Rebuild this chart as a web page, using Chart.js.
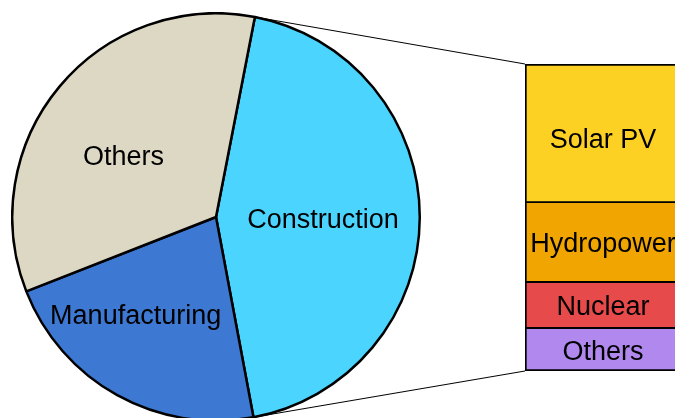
<!DOCTYPE html>
<html>
<head>
<meta charset="utf-8">
<script src="https://cdn.jsdelivr.net/npm/chart.js@4"></script>
<style>
  html, body { margin: 0; padding: 0; background: #fff; overflow: hidden; }
  #wrap { position: relative; width: 675px; height: 418px; overflow: hidden; }
  #wrap > div, #lines { position: absolute; }
  #pieBox { left: 11px; top: 12px; width: 410px; height: 410px; }
  #barBox { left: 525px; top: 64px; width: 156px; height: 307px; }
  #lines { left: 0; top: 0; }
</style>
</head>
<body>
<div id="wrap">
  <canvas id="lines" width="675" height="418"></canvas>
  <div id="pieBox"><canvas id="pieChart"></canvas></div>
  <div id="barBox"><canvas id="barChart"></canvas></div>
</div>
<script>
// ==================== DATA ====================
var sectorLabels = ['Construction', 'Manufacturing', 'Others'];
var sectorValues = [44, 22, 34];
var sectorColors = ['#4AD4FE', '#3D78D2', '#DCD8C3'];

// desglose de Construction (de abajo hacia arriba)
var sourceLabels = ['Others', 'Nuclear', 'Hydropower', 'Solar PV'];
var sourceValues = [14, 15, 26, 45];
var sourceColors = ['#B088EE', '#E64A4A', '#F0A500', '#FDD124'];

var FONT = { family: '"Liberation Sans", Arial, sans-serif', size: 27 };
var pieChart, barChart;

// ==================== PLUGINS ====================
// textos dentro de cada porción
var sliceLabels = {
  id: 'sliceLabels',
  afterDatasetsDraw: function (chart, args, opts) {
    var ctx = chart.ctx;
    var meta = chart.getDatasetMeta(0);
    ctx.save();
    ctx.font = FONT.size + 'px ' + FONT.family;
    ctx.fillStyle = '#000';
    ctx.textAlign = 'center';
    ctx.textBaseline = 'middle';
    meta.data.forEach(function (arc, i) {
      var mid = (arc.startAngle + arc.endAngle) / 2;
      var r = arc.outerRadius * opts.fraction;
      var n = opts.nudge[i] || { dx: 0, dy: 0 };
      ctx.fillText(chart.data.labels[i], arc.x + Math.cos(mid) * r + n.dx, arc.y + Math.sin(mid) * r + n.dy);
    });
    ctx.restore();
  }
};

// textos dentro de cada segmento de la barra
var segLabels = {
  id: 'segLabels',
  afterDatasetsDraw: function (chart, args, opts) {
    var ctx = chart.ctx;
    ctx.save();
    ctx.font = FONT.size + 'px ' + FONT.family;
    ctx.fillStyle = '#000';
    ctx.textAlign = 'center';
    ctx.textBaseline = 'middle';
    chart.data.datasets.forEach(function (ds, i) {
      var bar = chart.getDatasetMeta(i).data[0];
      var dy = opts.nudge[i] || 0;
      ctx.fillText(ds.label, bar.x, (bar.y + bar.base) / 2 + dy);
    });
    ctx.restore();
  }
};

// ==================== CHARTS ====================
function initPie() {
  pieChart = new Chart(document.getElementById('pieChart'), {
    type: 'pie',
    data: {
      labels: sectorLabels,
      datasets: [{
        data: sectorValues,
        backgroundColor: sectorColors,
        borderColor: '#000',
        borderWidth: 2.5
      }]
    },
    options: {
      responsive: true,
      maintainAspectRatio: false,
      animation: false,
      rotation: 11,
      layout: { padding: 0 },
      plugins: {
        legend: { display: false },
        tooltip: { enabled: false },
        sliceLabels: {
          fraction: 0.54,
          nudge: [{ dx: -3, dy: 3 }, { dx: -27, dy: 3 }, { dx: -8, dy: 11 }]
        }
      }
    },
    plugins: [sliceLabels]
  });
}

function initBar() {
  var top = sourceValues.length - 1;
  barChart = new Chart(document.getElementById('barChart'), {
    type: 'bar',
    data: {
      labels: ['Construction'],
      datasets: sourceLabels.map(function (lbl, i) {
        return {
          label: lbl,
          data: [sourceValues[i]],
          backgroundColor: sourceColors[i],
          borderColor: '#000',
          borderSkipped: false,
          borderWidth: {
            left: 2, right: 2,
            top: i === top ? 2 : 1.25,
            bottom: i === 0 ? 2 : 1.25
          },
          categoryPercentage: 1,
          barPercentage: 1
        };
      })
    },
    options: {
      responsive: true,
      maintainAspectRatio: false,
      animation: false,
      layout: { padding: 0 },
      scales: {
        x: { display: false, stacked: true },
        y: {
          display: false, stacked: true, min: 0,
          max: sourceValues.reduce(function (a, b) { return a + b; }, 0)
        }
      },
      plugins: {
        legend: { display: false },
        tooltip: { enabled: false },
        segLabels: { nudge: [3, 3, 2, 7] }
      }
    },
    plugins: [segLabels]
  });
}

// líneas que unen la porción Construction con la barra
function drawConnectors() {
  var arc = pieChart.getDatasetMeta(0).data[0];
  var pieBox = document.getElementById('pieBox');
  var barBox = document.getElementById('barBox');
  var px = pieBox.offsetLeft, py = pieBox.offsetTop;
  var bx = barBox.offsetLeft, by = barBox.offsetTop;

  var topBar = barChart.getDatasetMeta(sourceValues.length - 1).data[0];
  var botBar = barChart.getDatasetMeta(0).data[0];
  var left = bx + topBar.x - topBar.width / 2;

  var r = arc.outerRadius;
  var p1 = { x: px + arc.x + Math.cos(arc.startAngle) * r, y: py + arc.y + Math.sin(arc.startAngle) * r };
  var p2 = { x: px + arc.x + Math.cos(arc.endAngle) * r, y: py + arc.y + Math.sin(arc.endAngle) * r };

  var ctx = document.getElementById('lines').getContext('2d');
  ctx.strokeStyle = '#000';
  ctx.lineWidth = 1;
  ctx.beginPath();
  ctx.moveTo(p1.x, p1.y);
  ctx.lineTo(left, by + topBar.y);
  ctx.moveTo(p2.x, p2.y);
  ctx.lineTo(left, by + botBar.base);
  ctx.stroke();
}

initPie();
initBar();
drawConnectors();
</script>
</body>
</html>
